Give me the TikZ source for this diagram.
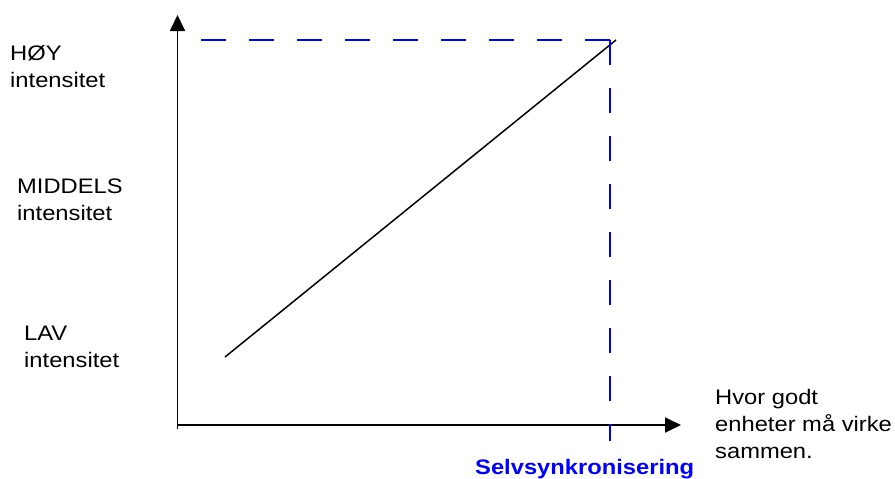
\documentclass[tikz,border=0pt]{standalone}
\usepackage{fontspec}
\setmainfont[FakeStretch=1.13]{Liberation Sans}
\usepackage{tikz}
\usetikzlibrary{arrows.meta}
\definecolor{blu}{HTML}{0000FF}
\tikzset{
  lbl/.style={anchor=base west, inner sep=0pt, align=left, font=\fontsize{21}{27}\selectfont},
  asse/.style={line width=1.8pt, -{Triangle[length=16pt,width=15pt]}},
  guida/.style={blu, line width=1.4pt, dash pattern=on 25pt off 23pt},
}

\begin{document}
\begin{tikzpicture}[x=1pt,y=-1pt]
        \useasboundingbox (0,0) rectangle (895,479);
        % assi
        \coordinate (O) at (177.5,429);
        \coordinate (ytop) at (177.5,15);
        \coordinate (xo) at (177,425);
        \coordinate (xend) at (681,425);
        \draw[asse] (O) -- (ytop);
        \draw[asse] (xo) -- (xend);
        % retta
        \coordinate (a) at (225,357);
        \coordinate (b) at (616,40);
        \draw[line width=1.5pt] (a) -- (b);
        % linee tratteggiate
        \coordinate (c) at (610,40);
        \coordinate (cy) at (178,40);
        \coordinate (cx) at (610,441);
        \draw[guida] (c) -- (cy);
        \draw[guida] (c) -- (cx);
        % etichette (base = ultima riga)
        \node[lbl] (hoy) at (10,87) {HØY\\intensitet};
        \node[lbl] (mid) at (17,220) {MIDDELS\\intensitet};
        \node[lbl] (lav) at (24,367) {LAV\\intensitet};
        \node[lbl] (hvor) at (715,458) {Hvor godt\\enheter må virke\\sammen.};
        \node[lbl, blu, font=\fontsize{21}{27}\selectfont\bfseries] (selv) at (475,474) {Selvsynkronisering};
    \end{tikzpicture}
\end{document}
